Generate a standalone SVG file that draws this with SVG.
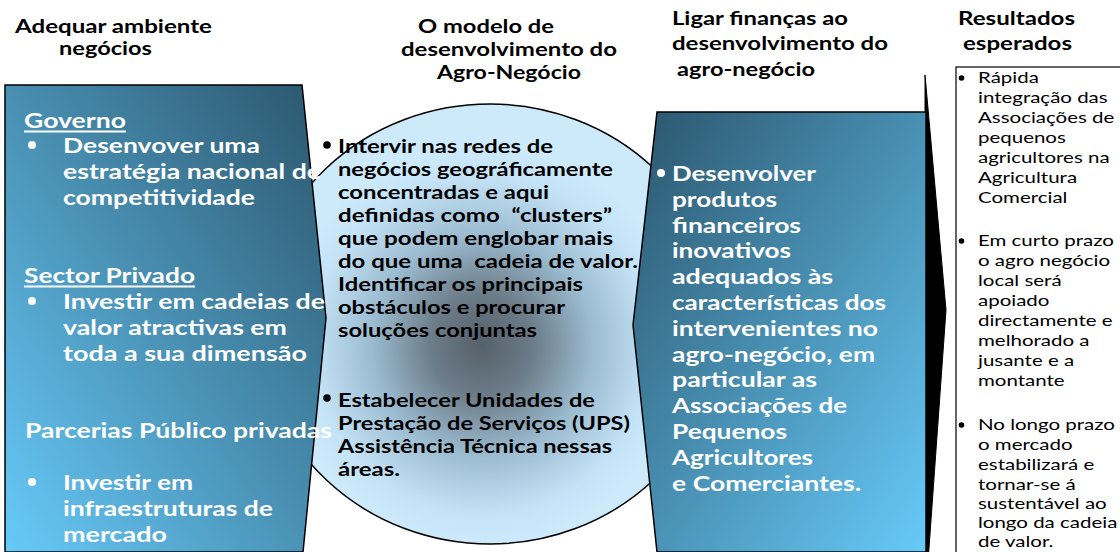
<svg xmlns="http://www.w3.org/2000/svg" width="1120" height="552" viewBox="0 0 1120 552">
<defs>
<style>
.hdr{font-family:Lato,"Open Sans","Liberation Sans",sans-serif;font-weight:700;font-size:18px;fill:#000}
.wt{font-family:Lato,"Open Sans","Liberation Sans",sans-serif;font-weight:700;font-size:21px;fill:#fff}
.ct{font-family:Lato,"Open Sans","Liberation Sans",sans-serif;font-weight:700;font-size:19px;fill:#000}
.rt{font-family:Lato,"Open Sans","Liberation Sans",sans-serif;font-weight:400;font-size:16px;fill:#000}
.edge{stroke:#000;stroke-width:1.5;stroke-linejoin:miter}
.ul{stroke:#fff;stroke-width:1.8}
</style>
<linearGradient id="gL" x1="0" y1="1" x2="1" y2="0">
<stop offset="0" stop-color="#67caf9"/>
<stop offset="1" stop-color="#2b556c"/>
</linearGradient>
<linearGradient id="gR" x1="0" y1="0" x2="1" y2="1">
<stop offset="0" stop-color="#2b556c"/>
<stop offset="1" stop-color="#67caf9"/>
</linearGradient>
<radialGradient id="gC" gradientUnits="userSpaceOnUse" cx="482" cy="345" r="200">
<stop offset="0" stop-color="#55616a"/>
<stop offset="0.25" stop-color="#6b7b87"/>
<stop offset="0.55" stop-color="#9bbbd0"/>
<stop offset="0.85" stop-color="#c4e3f7"/>
<stop offset="1" stop-color="#cdeafb"/>
</radialGradient>
</defs>

<g id="headers">
<text class="hdr" x="15" y="32.5" textLength="197" lengthAdjust="spacingAndGlyphs">Adequar ambiente</text>
<text class="hdr" x="59" y="54.5" textLength="93" lengthAdjust="spacingAndGlyphs">negócios</text>
<text class="hdr" x="418" y="32.5" textLength="136" lengthAdjust="spacingAndGlyphs">O modelo de</text>
<text class="hdr" x="401" y="55.5" textLength="216" lengthAdjust="spacingAndGlyphs">desenvolvimento do</text>
<text class="hdr" x="437" y="78.5" textLength="144" lengthAdjust="spacingAndGlyphs">Agro-Negócio</text>
<text class="hdr" x="672" y="24.5" textLength="176" lengthAdjust="spacingAndGlyphs">Ligar finanças ao</text>
<text class="hdr" x="672" y="49.5" textLength="216" lengthAdjust="spacingAndGlyphs">desenvolvimento do</text>
<text class="hdr" x="677" y="75.5" textLength="138" lengthAdjust="spacingAndGlyphs">agro-negócio</text>
<text class="hdr" x="958" y="24.5" textLength="117" lengthAdjust="spacingAndGlyphs">Resultados</text>
<text class="hdr" x="963" y="49.5" textLength="109" lengthAdjust="spacingAndGlyphs">esperados</text>
</g>

<g id="node-center">
<ellipse cx="490" cy="324" rx="232" ry="220" fill="url(#gC)" class="edge"/>
</g>

<g id="node-left">
<polygon points="5,85 302,85 326,318 303,552 5,552" fill="url(#gL)" class="edge"/>
</g>

<g id="connectors">
<polygon points="925,75 946,310 928,562 925,562" fill="#000" stroke="#000" stroke-width="1"/>
</g>

<g id="node-right">
<polygon points="657,112 926,112 926,552 657,552 633,325" fill="url(#gR)" class="edge"/>
</g>

<g id="node-left-text">
<text class="wt" x="24" y="128" textLength="102" lengthAdjust="spacingAndGlyphs">Governo</text>
<line class="ul" x1="24" y1="131.5" x2="126" y2="131.5"/>
<circle cx="32" cy="145" r="4" fill="#fff"/>
<text class="wt" x="63" y="153" textLength="197" lengthAdjust="spacingAndGlyphs">Desenvover uma</text>
<text class="wt" x="63" y="179" textLength="258" lengthAdjust="spacingAndGlyphs">estratégia nacional de</text>
<text class="wt" x="63" y="205" textLength="192" lengthAdjust="spacingAndGlyphs">competitividade</text>
<text class="wt" x="24" y="283" textLength="171" lengthAdjust="spacingAndGlyphs">Sector Privado</text>
<line class="ul" x1="24" y1="286.5" x2="195" y2="286.5"/>
<circle cx="32" cy="301" r="4" fill="#fff"/>
<text class="wt" x="63" y="309" textLength="262" lengthAdjust="spacingAndGlyphs">Investir em cadeias de</text>
<text class="wt" x="63" y="335" textLength="224" lengthAdjust="spacingAndGlyphs">valor atractivas em</text>
<text class="wt" x="63" y="361" textLength="244" lengthAdjust="spacingAndGlyphs">toda a sua dimensão</text>
<text class="wt" x="25" y="438" textLength="307" lengthAdjust="spacingAndGlyphs">Parcerias Público privadas</text>
<circle cx="32" cy="482" r="4" fill="#fff"/>
<text class="wt" x="63" y="490" textLength="130" lengthAdjust="spacingAndGlyphs">Investir em</text>
<text class="wt" x="63" y="516" textLength="210" lengthAdjust="spacingAndGlyphs">infraestruturas de</text>
<text class="wt" x="63" y="542" textLength="104" lengthAdjust="spacingAndGlyphs">mercado</text>
</g>

<g id="node-center-text">
<circle cx="327" cy="145" r="3.8" fill="#000"/>
<text class="ct" x="338" y="153" textLength="215" lengthAdjust="spacingAndGlyphs">Intervir nas redes de</text>
<text class="ct" x="338" y="176" textLength="275" lengthAdjust="spacingAndGlyphs">negócios geográficamente</text>
<text class="ct" x="338" y="199" textLength="211" lengthAdjust="spacingAndGlyphs">concentradas e aqui</text>
<text class="ct" x="338" y="222" textLength="274" lengthAdjust="spacingAndGlyphs" xml:space="preserve">definidas como  “clusters”</text>
<text class="ct" x="338" y="245" textLength="275" lengthAdjust="spacingAndGlyphs">que podem englobar mais</text>
<text class="ct" x="338" y="268" textLength="300" lengthAdjust="spacingAndGlyphs" xml:space="preserve">do que uma  cadeia de valor.</text>
<text class="ct" x="338" y="291" textLength="245" lengthAdjust="spacingAndGlyphs">Identificar os principais</text>
<text class="ct" x="338" y="314" textLength="227" lengthAdjust="spacingAndGlyphs">obstáculos e procurar</text>
<text class="ct" x="338" y="337" textLength="199" lengthAdjust="spacingAndGlyphs">soluções conjuntas</text>
<circle cx="327" cy="398" r="3.8" fill="#000"/>
<text class="ct" x="338" y="407" textLength="257" lengthAdjust="spacingAndGlyphs">Estabelecer Unidades de</text>
<text class="ct" x="338" y="430" textLength="292" lengthAdjust="spacingAndGlyphs">Prestação de Serviços (UPS)</text>
<text class="ct" x="338" y="453" textLength="274" lengthAdjust="spacingAndGlyphs">Assistência Técnica nessas</text>
<text class="ct" x="338" y="476" textLength="62" lengthAdjust="spacingAndGlyphs">áreas.</text>
</g>

<g id="node-right-text">
<circle cx="661" cy="173" r="4" fill="#fff"/>
<text class="wt" x="672" y="181" textLength="144" lengthAdjust="spacingAndGlyphs">Desenvolver</text>
<text class="wt" x="672" y="207" textLength="105" lengthAdjust="spacingAndGlyphs">produtos</text>
<text class="wt" x="672" y="233" textLength="129" lengthAdjust="spacingAndGlyphs">financeiros</text>
<text class="wt" x="672" y="258" textLength="119" lengthAdjust="spacingAndGlyphs">inovativos</text>
<text class="wt" x="672" y="284" textLength="161" lengthAdjust="spacingAndGlyphs">adequados às</text>
<text class="wt" x="672" y="310" textLength="214" lengthAdjust="spacingAndGlyphs">características dos</text>
<text class="wt" x="672" y="336" textLength="206" lengthAdjust="spacingAndGlyphs">intervenientes no</text>
<text class="wt" x="672" y="362" textLength="203" lengthAdjust="spacingAndGlyphs">agro-negócio, em</text>
<text class="wt" x="672" y="387" textLength="145" lengthAdjust="spacingAndGlyphs">particular as</text>
<text class="wt" x="672" y="413" textLength="175" lengthAdjust="spacingAndGlyphs">Associações de</text>
<text class="wt" x="672" y="439" textLength="115" lengthAdjust="spacingAndGlyphs">Pequenos</text>
<text class="wt" x="672" y="465" textLength="141" lengthAdjust="spacingAndGlyphs">Agricultores</text>
<text class="wt" x="672" y="491" textLength="189" lengthAdjust="spacingAndGlyphs">e Comerciantes.</text>
</g>

<g id="node-results">
<rect x="956" y="67" width="200" height="520" fill="#fff" stroke="#000" stroke-width="1.2"/>
<circle cx="961.5" cy="78" r="2.8" fill="#000"/>
<circle cx="961.5" cy="241" r="2.8" fill="#000"/>
<circle cx="961.5" cy="425" r="2.8" fill="#000"/>
<g transform="translate(978 0) scale(1.28 1)">
<text class="rt" x="0" y="83">Rápida</text>
<text class="rt" x="0" y="103">integração das</text>
<text class="rt" x="0" y="123">Associações de</text>
<text class="rt" x="0" y="143">pequenos</text>
<text class="rt" x="0" y="163">agricultores na</text>
<text class="rt" x="0" y="183">Agricultura</text>
<text class="rt" x="0" y="203">Comercial</text>
<text class="rt" x="0" y="246">Em curto prazo</text>
<text class="rt" x="0" y="266">o agro negócio</text>
<text class="rt" x="0" y="286">local será</text>
<text class="rt" x="0" y="306">apoiado</text>
<text class="rt" x="0" y="326">directamente e</text>
<text class="rt" x="0" y="346">melhorado a</text>
<text class="rt" x="0" y="366">jusante e a</text>
<text class="rt" x="0" y="386">montante</text>
<text class="rt" x="0" y="430">No longo prazo</text>
<text class="rt" x="0" y="450">o mercado</text>
<text class="rt" x="0" y="470">estabilizará e</text>
<text class="rt" x="0" y="490">tornar-se á</text>
<text class="rt" x="0" y="509">sustentável ao</text>
<text class="rt" x="0" y="528">longo da cadeia</text>
<text class="rt" x="0" y="547">de valor.</text>
</g>
</g>
</svg>
